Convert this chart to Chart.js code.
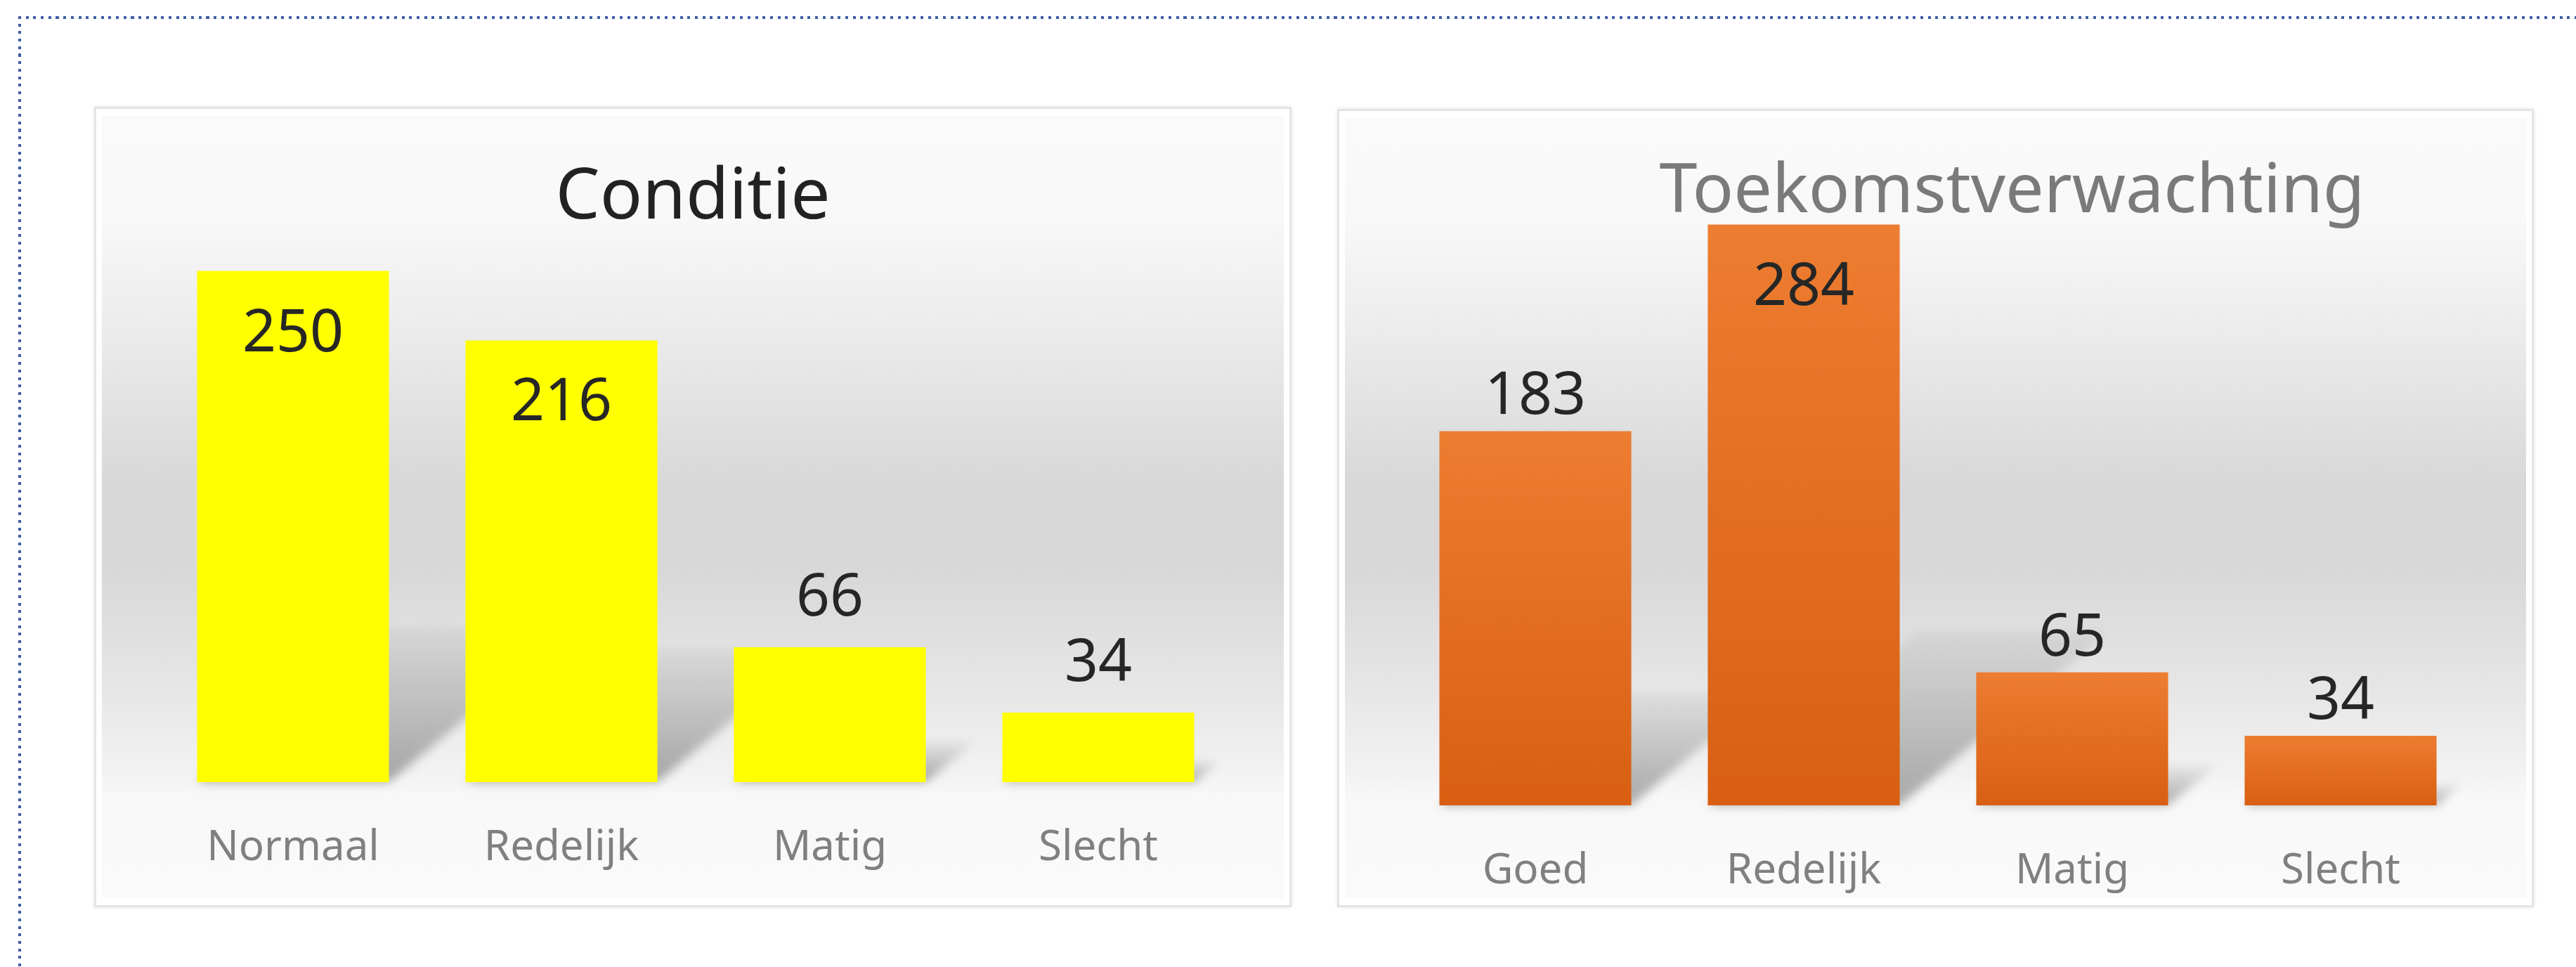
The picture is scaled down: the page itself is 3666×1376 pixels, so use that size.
<!DOCTYPE html>
<html lang="nl">
<head>
    <meta charset="UTF-8">
    <title>Conditie en Toekomstverwachting</title>
    <script src="https://cdn.jsdelivr.net/npm/chart.js"></script>
    <style>
        body {
            margin: 0;
            width: 3666px;
            height: 1376px;
            background: #ffffff;
            overflow: hidden;
            position: relative;
            font-family: "Noto Sans", sans-serif;
        }
        /* dotted frame, only top and left edges are visible */
        .frame-top {
            position: absolute;
            left: 26px;
            top: 23px;
            width: 3640px;
            height: 4px;
            background: repeating-linear-gradient(to right, #3f5ca6 0 4px, transparent 4px 10.7px);
        }
        .frame-left {
            position: absolute;
            left: 26px;
            top: 23px;
            width: 4px;
            height: 1353px;
            background: repeating-linear-gradient(to bottom, #3f5ca6 0 4px, transparent 4px 10.7px);
        }
        .panel {
            position: absolute;
            background: #ffffff;
            border: 3px solid #e4e4e4;
            box-shadow: 0 0 6px rgba(0, 0, 0, 0.10);
            box-sizing: border-box;
        }
        .panel .plot-bg {
            position: absolute;
            left: 8px;
            right: 8px;
            top: 10px;
            bottom: 10px;
            background: linear-gradient(to bottom,
                #fafafa 0%,
                #f8f8f8 13%,
                #ebebeb 28%,
                #d8d8d8 47%,
                #d8d8d8 58%,
                #e5e5e5 72%,
                #f2f2f2 84%,
                #f8f8f8 87%,
                #fafafa 100%);
        }
        .panel canvas {
            position: absolute;
            left: -3px;
            top: -3px;
        }
        #panel1 { left: 134px; top: 152px; width: 1704px; height: 1139px; }
        #panel2 { left: 1903px; top: 155px; width: 1703px; height: 1136px; }
    </style>
</head>
<body>
    <div class="frame-top"></div>
    <div class="frame-left"></div>

    <!-- Conditie -->
    <div class="panel" id="panel1">
        <div class="plot-bg"></div>
        <canvas id="conditieChart" width="1704" height="1139"></canvas>
    </div>

    <!-- Toekomstverwachting -->
    <div class="panel" id="panel2">
        <div class="plot-bg"></div>
        <canvas id="toekomstChart" width="1703" height="1136"></canvas>
    </div>

    <script>
        const conditieLabels = ['Normaal', 'Redelijk', 'Matig', 'Slecht'];
        const conditieValues = [250, 216, 66, 34];

        const toekomstLabels = ['Goed', 'Redelijk', 'Matig', 'Slecht'];
        const toekomstValues = [183, 284, 65, 34];

        const yMax = 300;

        Chart.defaults.font.family = '"Noto Sans", sans-serif';
        Chart.defaults.animation = false;

        // soft perspective shadow behind every bar
        const barShadow = {
            id: 'barShadow',
            beforeDatasetsDraw(chart) {
                const ctx = chart.ctx;
                chart.getDatasetMeta(0).data.forEach(bar => {
                    const h = bar.base - bar.y;
                    const left = bar.x - bar.width / 2;
                    const right = bar.x + bar.width / 2;
                    const dx = h * 0.36;
                    const dy = h * 0.3;
                    ctx.save();
                    ctx.filter = 'blur(7px)';
                    const g = ctx.createLinearGradient(0, bar.base, 0, bar.base - dy);
                    g.addColorStop(0, 'rgba(0,0,0,0.32)');
                    g.addColorStop(1, 'rgba(0,0,0,0.04)');
                    ctx.fillStyle = g;
                    ctx.beginPath();
                    ctx.moveTo(left, bar.base);
                    ctx.lineTo(right, bar.base);
                    ctx.lineTo(right + dx, bar.base - dy);
                    ctx.lineTo(left + dx, bar.base - dy);
                    ctx.closePath();
                    ctx.fill();
                    ctx.restore();
                });
            }
        };

        // value labels: inside the bar top for tall bars, above for the rest
        const valueLabels = {
            id: 'valueLabels',
            afterDatasetsDraw(chart, args, opts) {
                const ctx = chart.ctx;
                const values = chart.data.datasets[0].data;
                ctx.save();
                ctx.font = '84px "Noto Sans", sans-serif';
                ctx.fillStyle = '#262626';
                ctx.textAlign = 'center';
                ctx.textBaseline = 'alphabetic';
                chart.getDatasetMeta(0).data.forEach((bar, i) => {
                    const v = values[i];
                    const y = v > 200 ? bar.y + 114 : bar.y - opts.above;
                    ctx.fillText(String(v), bar.x, y);
                });
                ctx.restore();
            }
        };

        // chart title, placed freely in the panel
        const panelTitle = {
            id: 'panelTitle',
            afterDraw(chart, args, opts) {
                const ctx = chart.ctx;
                ctx.save();
                ctx.font = opts.size + 'px "Noto Sans", sans-serif';
                ctx.fillStyle = opts.color;
                ctx.textAlign = 'center';
                ctx.textBaseline = 'alphabetic';
                ctx.fillText(opts.text, chart.width * opts.x, opts.y);
                ctx.restore();
            }
        };

        function orangeFill(context) {
            const chart = context.chart;
            const y = chart.scales.y;
            const fallback = '#e46c1f';
            if (!chart.chartArea || !y) return fallback;
            const top = y.getPixelForValue(context.raw);
            const base = y.getPixelForValue(0);
            if (!isFinite(top) || !isFinite(base) || top === base) return fallback;
            const g = chart.ctx.createLinearGradient(0, top, 0, base);
            g.addColorStop(0, '#ed7d31');
            g.addColorStop(1, '#d85f12');
            return g;
        }

        function makeChart(id, labels, values, fill, title, above, axisHeight, layoutPadding) {
            return new Chart(document.getElementById(id), {
                type: 'bar',
                data: {
                    labels: labels,
                    datasets: [{
                        data: values,
                        backgroundColor: fill,
                        borderWidth: 0,
                        categoryPercentage: 1,
                        barPercentage: 0.715,
                    }]
                },
                options: {
                    responsive: false,
                    layout: { padding: layoutPadding },
                    plugins: {
                        legend: { display: false },
                        tooltip: { enabled: false },
                        panelTitle: title,
                        valueLabels: { above: above },
                    },
                    scales: {
                        x: {
                            grid: { display: false, drawTicks: false },
                            border: { display: false },
                            ticks: {
                                color: '#808080',
                                font: { size: 60 },
                                padding: 58,
                            },
                            afterFit(scale) {
                                scale.height = axisHeight;
                            },
                        },
                        y: {
                            display: false,
                            min: 0,
                            max: yMax,
                        },
                    },
                },
                plugins: [barShadow, valueLabels, panelTitle]
            });
        }

        makeChart('conditieChart', conditieLabels, conditieValues, '#ffff00',
            { text: 'Conditie', color: '#222222', size: 100, x: 0.5, y: 159 },
            45, 178,
            { left: 92, right: 84, top: 88, bottom: 0 });

        makeChart('toekomstChart', toekomstLabels, toekomstValues, orangeFill,
            { text: 'Toekomstverwachting', color: '#7a7a7a', size: 97, x: 0.564, y: 147 },
            24, 145,
            { left: 91, right: 84, top: 118, bottom: 0 });
    </script>
</body>
</html>
